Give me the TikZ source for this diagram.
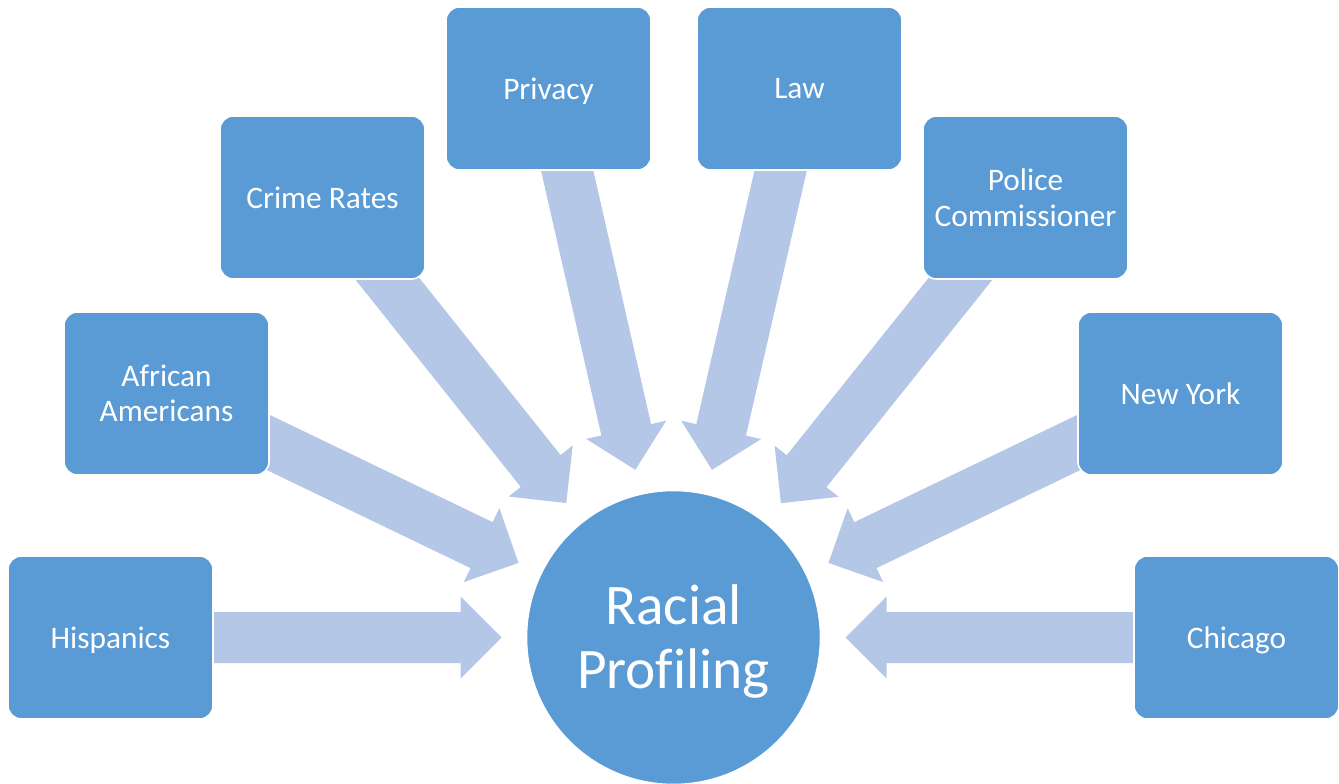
\documentclass[tikz,border=0pt]{standalone}
\usepackage{fontspec}
\setmainfont{Carlito}[Ligatures=NoCommon]
\usetikzlibrary{calc,backgrounds}
\definecolor{boxblue}{HTML}{5B9BD5}
\definecolor{arrowblue}{HTML}{B4C7E7}
\begin{document}
\begin{tikzpicture}[x=0.75pt,y=-0.75pt,
  item/.style={rectangle, rounded corners=10pt, fill=boxblue, draw=white, line width=1.2pt,
    minimum width=153.75pt, minimum height=122.25pt, text=white, align=center,
    font=\fontsize{23.5}{26.5}\selectfont, inner sep=2pt, text depth=0pt},
  hub/.style={circle, fill=boxblue, draw=white, line width=1.2pt, minimum size=220.5pt,
    inner sep=0pt, text=white, align=center, font=\fontsize{43}{48}\selectfont,
    text depth=1.5pt},
  conv/.style={fill=arrowblue}]
\useasboundingbox (0,0) rectangle (1339,784);
\node[hub] (C) at (673.5,637.5) {Racial\\Profiling};
\node[item] (his) at (110.5,637.5) {Hispanics};
\node[item] (afr) at (166.5,393.5) {African\\Americans};
\node[item] (cri) at (322.5,197.5) {Crime Rates};
\node[item] (pri) at (548.5,88.5) {Privacy};
\node[item] (law) at (799.5,88.5) {Law};
\node[item] (pol) at (1025.5,197.5) {Police\\Commissioner};
\node[item] (ny) at (1180.5,393.5) {New York};
\node[item] (chi) at (1236.5,637.5) {Chicago};
\begin{scope}[on background layer]
\foreach \b in {his,afr,cri,pri,law,pol,ny,chi}{
  \coordinate (h) at ($(C.center)!159.75pt!(\b.center)$);
  \fill[conv] ($(C.center)!129pt!(\b.center)$)
    -- ($(h)!30.75pt!90:(\b.center)$)
    -- ($(h)!19.125pt!90:(\b.center)$)
    -- ($(\b.center)!19.125pt!-90:(h)$)
    -- ($(\b.center)!19.125pt!90:(h)$)
    -- ($(h)!19.125pt!-90:(\b.center)$)
    -- ($(h)!30.75pt!-90:(\b.center)$)
    -- cycle;
}
\end{scope}
\end{tikzpicture}
\end{document}
